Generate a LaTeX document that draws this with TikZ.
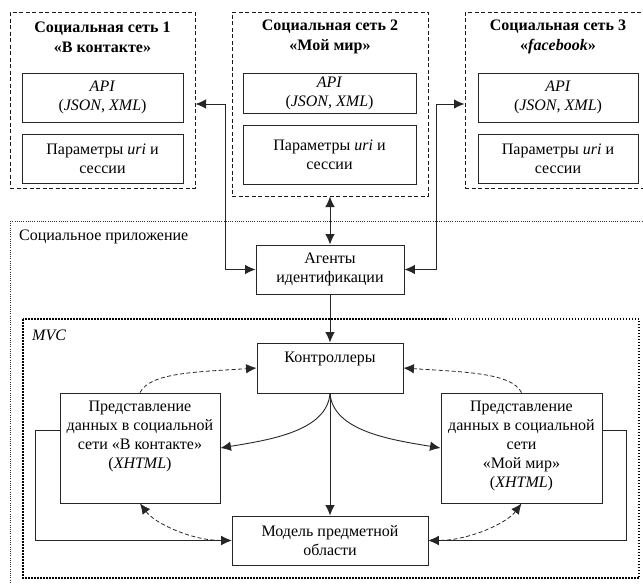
\documentclass[tikz,border=0pt]{standalone}
\usepackage{fontspec}
\setmainfont{Liberation Serif}
\usetikzlibrary{arrows.meta,calc}
\tikzset{
  every node/.style={font=\fontsize{16}{19}\selectfont, inner sep=0pt},
  box/.style={draw=black!85, line width=0.9pt, align=center},
  netbox/.style={draw=black!90, line width=1pt, dash pattern=on 4pt off 2.5pt},
  titletext/.style={align=center, font=\fontsize{16}{20}\selectfont\bfseries},
  outerdot/.style={draw=black!80, line width=0.8pt, dash pattern=on 0.9pt off 1.3pt},
  mvcdot/.style={draw=black, line width=1.6pt, dash pattern=on 1.5pt off 1.5pt},
  tipA/.tip={Latex[length=10.5pt,width=9.5pt]},
  arr/.style={draw=black!85, line width=0.9pt, -tipA},
  dbl/.style={draw=black!85, line width=0.9pt, tipA-tipA},
  darr/.style={draw=black!85, line width=0.8pt, dash pattern=on 4pt off 2.5pt, -tipA},
  ddbl/.style={draw=black!85, line width=0.8pt, dash pattern=on 4pt off 2.5pt, tipA-tipA},
}
\begin{document}
\begin{tikzpicture}[x=1pt,y=-1pt]
\path[use as bounding box] (0,0) rectangle (643,584);
\clip (0,0) rectangle (643,584);

% social networks
\node[netbox, minimum width=185pt, minimum height=176pt] (sn1) at (102.5,100) {};
\node[titletext] (t1) at (102.5,37) {Социальная сеть 1\\«В контакте»};
\node[box, minimum width=161pt, minimum height=49pt] (api1) at (102.5,97.5) {\textit{API}\\(\textit{JSON}, \textit{XML})};
\node[box, minimum width=161pt, minimum height=49pt] (par1) at (102.5,158.5) {Параметры \textit{uri} и\\сессии};

\node[netbox, minimum width=196pt, minimum height=184pt] (sn2) at (330,104) {};
\node[titletext] (t2) at (330,37) {Социальная сеть 2\\«Мой мир»};
\node[box, minimum width=173pt, minimum height=40pt] (api2) at (329.5,93) {\textit{API}\\(\textit{JSON}, \textit{XML})};
\node[box, minimum width=173pt, minimum height=59pt] (par2) at (329.5,154.5) {Параметры \textit{uri} и\\сессии};

\node[netbox, minimum width=195pt, minimum height=176pt] (sn3) at (562.5,100) {};
\node[titletext] (t3) at (558,37) {Социальная сеть 3\\«\textit{facebook}»};
\node[box, minimum width=160pt, minimum height=49pt] (api3) at (558,97.5) {\textit{API}\\(\textit{JSON}, \textit{XML})};
\node[box, minimum width=160pt, minimum height=49pt] (par3) at (558,158.5) {Параметры \textit{uri} и\\сессии};

% application frame
\draw[outerdot] (10,221) rectangle (660,600);
\node[anchor=west] (appl) at (19,237) {Социальное приложение};

\node[box, minimum width=148pt, minimum height=49pt] (agents) at (330,269.5) {Агенты\\идентификации};

% MVC frame
\draw[mvcdot] (23,319) rectangle (639,578);
\node[anchor=west] (mvcl) at (32,335) {\textit{MVC}};

\node[box, minimum width=146pt, minimum height=50pt] (ctrl) at (330,368)
  {\parbox[c][32pt][t]{140pt}{\centering Контроллеры}};
\node[box, minimum width=160pt, minimum height=110pt] (lview) at (140,448)
  {\parbox[c][93pt][t]{158pt}{\centering Представление\\данных в социальной\\сети «В контакте»\\(\textit{XHTML})}};
\node[box, minimum width=161pt, minimum height=110pt] (rview) at (521.5,448)
  {\parbox[c][93pt][t]{158pt}{\centering Представление\\данных в социальной\\сети\\«Мой мир»\\(\textit{XHTML})}};
\node[box, minimum width=196pt, minimum height=49pt] (model) at (330,540.5) {Модель предметной\\области};

% connectors top
\coordinate (c1) at (225,104);
\coordinate (c3) at (436,104);
\draw[dbl] (agents.west) -| (c1) -- (c1 -| sn1.east);
\draw[dbl] (agents.east) -| (c3) -- (c3 -| sn3.west);
\draw[dbl] (sn2.south) -- (agents.north);
\draw[arr] (agents.south) -- (ctrl.north);

% controller to views and model
\draw[arr] (ctrl.south) .. controls +(-3,38) and +(48,-8) .. (lview.east);
\draw[arr] (ctrl.south) .. controls +(3,38) and +(-48,-8) .. (rview.west);
\draw[arr] (ctrl.south) -- (model.north);

% dashed view -> controller
\draw[darr] (lview.north) .. controls +(10,-20) and +(-60,4) .. (ctrl.west);
\draw[darr] (rview.north) .. controls +(-10,-20) and +(60,4) .. (ctrl.east);

% dashed view <-> model
\draw[ddbl] (lview.south) .. controls +(15,20) and +(-40,0) .. (model.west);
\draw[ddbl] (rview.south) .. controls +(-15,20) and +(40,0) .. (model.east);

% solid view -> model
\coordinate (lj) at (35,430);
\coordinate (rj) at (626,430);
\draw[arr] (lj -| lview.west) -- (lj) |- (model.west);
\draw[arr] (rj -| rview.east) -- (rj) |- (model.east);
\end{tikzpicture}
\end{document}
